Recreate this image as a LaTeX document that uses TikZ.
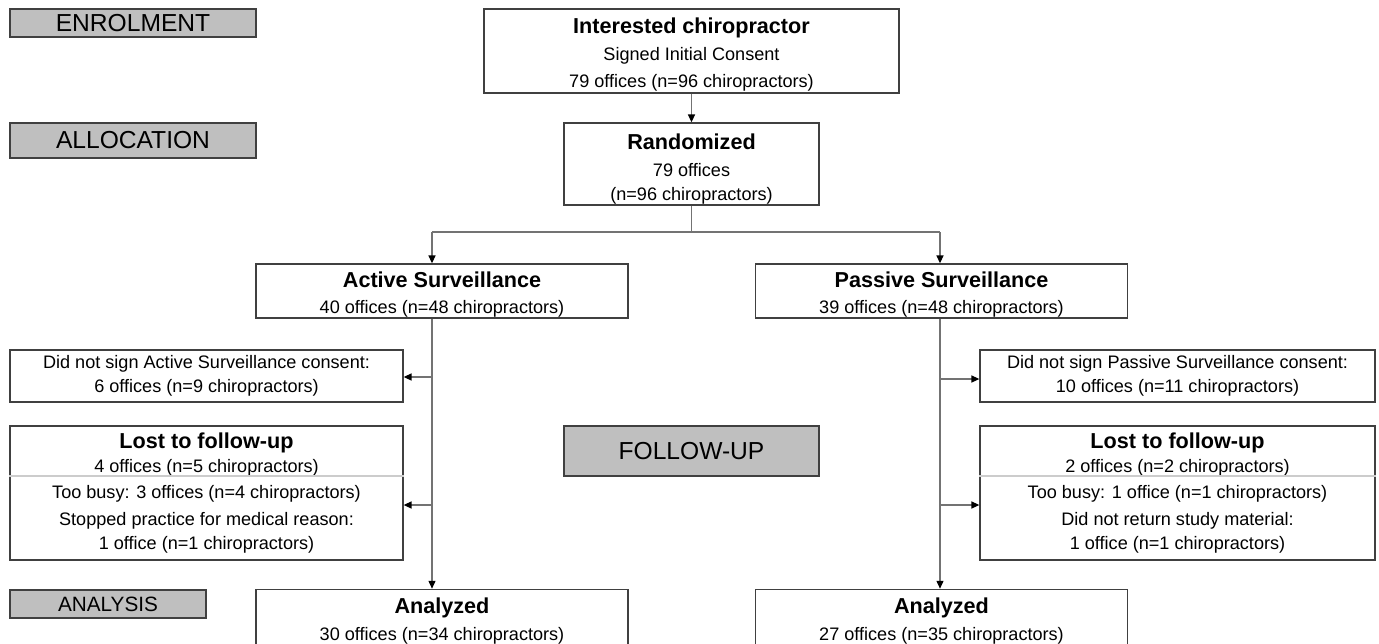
\documentclass[tikz,border=0pt]{standalone}
\usepackage{fontspec}
\setmainfont{Liberation Sans}
\usetikzlibrary{arrows.meta}
\newcommand{\bodysize}{\fontsize{10.3}{13.6}\selectfont}
\newcommand{\headsize}{\fontsize{12.3}{15.3}\selectfont\bfseries}
\newcommand{\boxtitle}[1]{{\headsize\rule{0pt}{13pt}#1}}
\begin{document}
\begin{tikzpicture}[
  x=0.02cm, y=-0.02cm,
  box/.style={rectangle, draw=black!75, line width=0.8pt, fill=white, inner sep=0pt, align=center, font=\bodysize},
  phase/.style={rectangle, draw=black!75, line width=0.8pt, fill=black!25, inner sep=0pt, minimum width=4.92cm, font=\fontsize{14}{16}\selectfont},
  link/.style={draw=black!55, line width=0.7pt},
  divider/.style={draw=black!20, line width=0.8pt},
  >={Triangle[length=4.5pt, width=4pt, color=black]}
]
\clip (0,0) rectangle (1379,643);

\node[phase, minimum height=0.56cm] (enrol) at (133,23) {ENROLMENT};
\node[phase, minimum height=0.70cm] (alloc) at (133,140.5) {ALLOCATION};
\node[phase, minimum width=3.92cm, minimum height=0.56cm, font=\fontsize{11.8}{14}\selectfont] (analysis) at (108,604) {ANALYSIS};
\node[phase, minimum width=5.10cm, minimum height=1.00cm] (followup) at (691.5,451) {FOLLOW-UP};

\node[box, minimum width=8.30cm, minimum height=1.68cm] (interest) at (691.5,51)
  {\boxtitle{Interested chiropractor}\\[1.7pt] Signed Initial Consent\\[2.3pt] 79 offices (n=96 chiropractors)};
\node[box, minimum width=5.10cm, minimum height=1.64cm] (random) at (691.5,164)
  {\boxtitle{\rule{0pt}{15pt}Randomized}\\[1.7pt] 79 offices\\ (n=96 chiropractors)};

\node[box, minimum width=7.44cm, minimum height=1.08cm] (active) at (442,291)
  {\boxtitle{Active Surveillance}\\[1.7pt] 40 offices (n=48 chiropractors)};
\node[box, minimum width=7.44cm, minimum height=1.08cm] (passive) at (941.5,291)
  {\boxtitle{Passive Surveillance}\\[1.7pt] 39 offices (n=48 chiropractors)};

\node[box, minimum width=7.86cm, minimum height=1.04cm] (nosignA) at (206.5,376)
  {Did not sign Active Surveillance consent:\\ 6 offices (n=9 chiropractors)};
\node[box, minimum width=7.86cm, minimum height=2.68cm] (lostA) at (206.5,493)
  {{\headsize Lost to follow-up}\\ 4 offices (n=5 chiropractors)\\[1.7pt] Too busy: 3 offices (n=4 chiropractors)\\[1.7pt] Stopped practice for medical reason:\\ 1 office (n=1 chiropractors)};

\node[box, minimum width=7.90cm, minimum height=1.04cm] (nosignP) at (1177.5,376)
  {Did not sign Passive Surveillance consent:\\ 10 offices (n=11 chiropractors)};
\node[box, minimum width=7.90cm, minimum height=2.68cm] (lostP) at (1177.5,493)
  {{\headsize Lost to follow-up}\\ 2 offices (n=2 chiropractors)\\[1.7pt] Too busy: 1 office (n=1 chiropractors)\\[1.7pt] Did not return study material:\\ 1 office (n=1 chiropractors)};

\node[box, minimum width=7.44cm, minimum height=1.08cm] (analyzedA) at (442,617)
  {\boxtitle{\rule{0pt}{14pt}Analyzed}\\[1.7pt] 30 offices (n=34 chiropractors)};
\node[box, minimum width=7.44cm, minimum height=1.08cm] (analyzedP) at (941.5,617)
  {\boxtitle{\rule{0pt}{14pt}Analyzed}\\[1.7pt] 27 offices (n=35 chiropractors)};

\coordinate (splitA) at (0,476);
\draw[divider] (lostA.west |- splitA) -- (lostA.east |- splitA);
\draw[divider] (lostP.west |- splitA) -- (lostP.east |- splitA);

\coordinate (forkA) at (432,232);
\coordinate (forkP) at (940,232);
\coordinate (quitA) at (432,377);
\coordinate (quitP) at (940,379);
\coordinate (dropA) at (432,505);
\coordinate (dropP) at (940,505);

\draw[link, ->] (interest) -- (random);
\draw[link] (random.south) -- (random.south |- forkA);
\draw[link] (forkA) -- (forkP);
\draw[link, ->] (forkA) -- (forkA |- active.north);
\draw[link, ->] (forkP) -- (forkP |- passive.north);
\draw[link, ->] (active.south -| forkA) -- (forkA |- analyzedA.north);
\draw[link, ->] (passive.south -| forkP) -- (forkP |- analyzedP.north);
\draw[link, ->] (quitA) -- (quitA -| nosignA.east);
\draw[link, ->] (dropA) -- (dropA -| lostA.east);
\draw[link, ->] (quitP) -- (quitP -| nosignP.west);
\draw[link, ->] (dropP) -- (dropP -| lostP.west);
\end{tikzpicture}
\end{document}
